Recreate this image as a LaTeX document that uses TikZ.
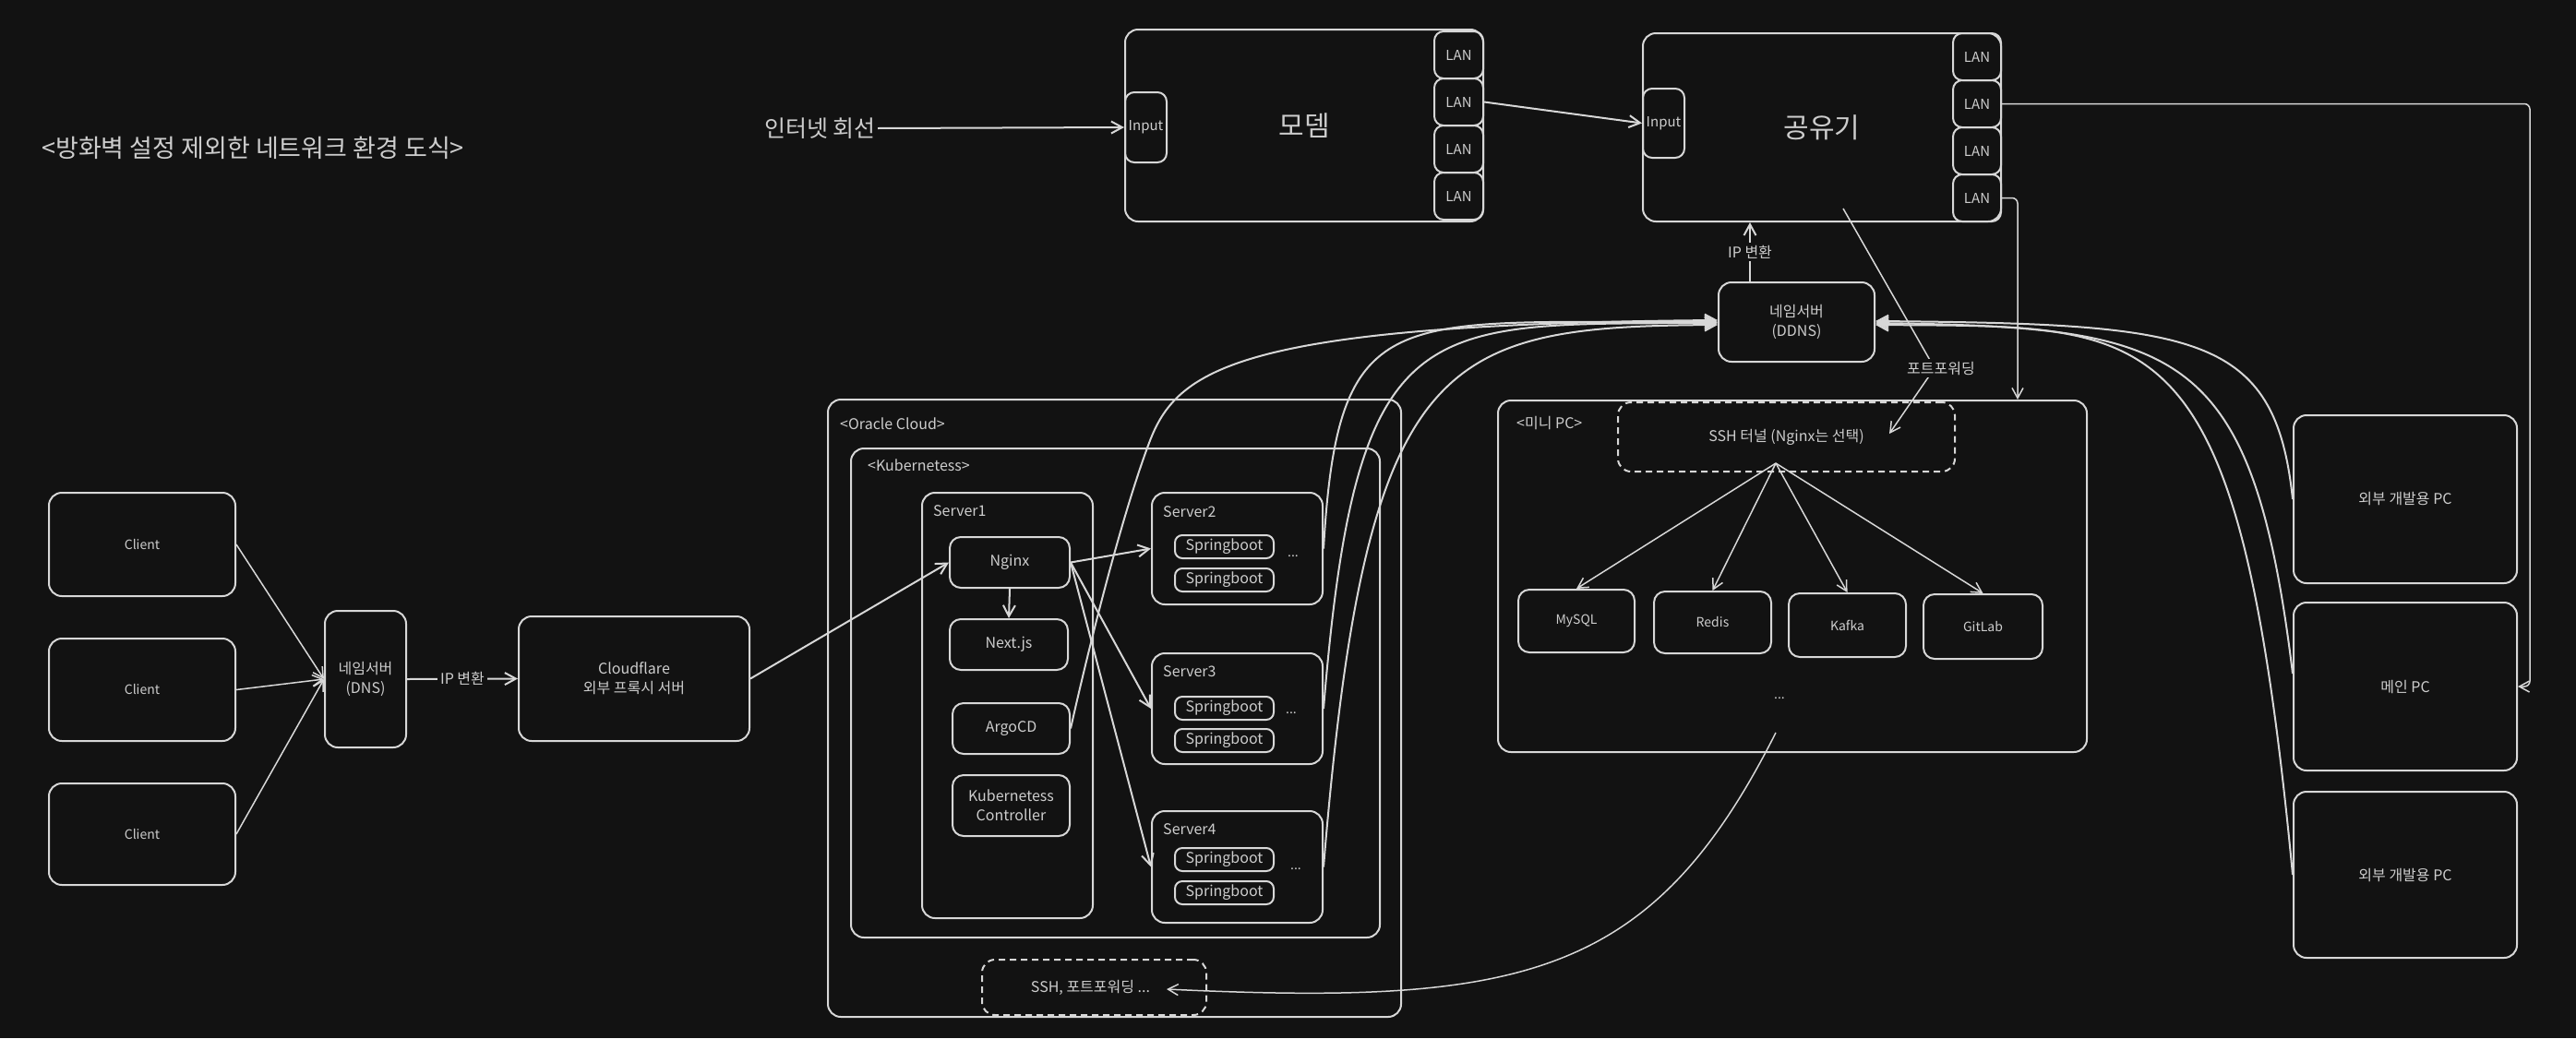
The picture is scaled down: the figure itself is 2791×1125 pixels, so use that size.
\documentclass[tikz,border=0pt]{standalone}
\usepackage{fontspec}
\setmainfont{Noto Sans CJK KR}
\usetikzlibrary{arrows.meta,calc}
\definecolor{bg}{RGB}{18,18,18}
\definecolor{fg}{RGB}{215,215,215}
\definecolor{tx}{RGB}{205,205,205}
\newcommand\fsz[2]{\fontsize{#1}{#2}\selectfont}
\begin{document}
\begin{tikzpicture}[x=1pt,y=-1pt,
  box/.style={draw=fg, line width=2pt, rounded corners=14pt, text=tx, align=center, inner sep=0pt, font=\fsz{16}{21}},
  sm/.style={box, rounded corners=8pt},
  svc/.style={box, rounded corners=12pt, font=\fsz{14}{18}},
  port/.style={box, rounded corners=10pt, font=\fsz{15}{18}},
  dbox/.style={box, dash pattern=on 7pt off 5pt},
  txt/.style={text=tx, inner sep=2pt, font=\fsz{16}{21}, align=center},
  lab/.style={txt, fill=bg, inner sep=3pt},
  con/.style={draw=fg, line width=2pt},
  tcon/.style={draw=fg, line width=1.5pt},
  arr/.style={con, -{Straight Barb[length=12pt,width=13pt]}},
  tarr/.style={tcon, -{Straight Barb[length=11pt,width=12pt]}}
]
\fill[bg] (0,0) rectangle (2791,1125);
\useasboundingbox (0,0) rectangle (2791,1125);

% title
\node[txt, anchor=west, font=\fsz{27}{31}] (title) at (43,160) {<방화벽 설정 제외한 네트워크 환경 도식>};

% modem
\node[txt, anchor=east, font=\fsz{25}{29}] (inet) at (951,139) {인터넷 회선};
\node[box, minimum width=388, minimum height=208, font=\fsz{30}{34}] (modem) at (1413,136) {모뎀};
\node[port, minimum width=45, minimum height=76] (min) at (1241.5,138) {Input};
\node[port, minimum width=53, minimum height=51] (ml1) at (1580.5,59.5) {LAN};
\node[port, minimum width=53, minimum height=51] (ml2) at (1580.5,110.5) {LAN};
\node[port, minimum width=53, minimum height=51] (ml3) at (1580.5,161.5) {LAN};
\node[port, minimum width=53, minimum height=51] (ml4) at (1580.5,212.5) {LAN};

% router
\node[box, minimum width=388, minimum height=204, font=\fsz{30}{34}] (router) at (1974,138) {공유기};
\node[port, minimum width=45, minimum height=75] (rin) at (1802.5,133.5) {Input};
\node[port, minimum width=52, minimum height=51] (rl1) at (2142,61.5) {LAN};
\node[port, minimum width=52, minimum height=51] (rl2) at (2142,112.5) {LAN};
\node[port, minimum width=52, minimum height=51] (rl3) at (2142,163.5) {LAN};
\node[port, minimum width=52, minimum height=51] (rl4) at (2142,214.5) {LAN};

% DDNS
\node[box, minimum width=169, minimum height=86] (ddns) at (1946.5,349) {네임서버\\(DDNS)};

% mini PC
\node[box, minimum width=638, minimum height=381] (mini) at (1942,624.5) {};
\node[txt, anchor=west] (minilbl) at (1641,459) {<미니 PC>};
\node[dbox, minimum width=365, minimum height=75] (tun) at (1935.5,473.5) {SSH 터널 (Nginx는 선택)};
\node[svc, minimum width=126, minimum height=68] (mysql) at (1708,673) {MySQL};
\node[svc, minimum width=127, minimum height=67] (redis) at (1855.5,674.5) {Redis};
\node[svc, minimum width=127, minimum height=69] (kafka) at (2001.5,677.5) {Kafka};
\node[svc, minimum width=129, minimum height=70] (gitlab) at (2148.5,679) {GitLab};
\node[txt, font=\fsz{14}{16}] (minidots) at (1928,757) {...};

% Oracle cloud
\node[box, minimum width=621, minimum height=669] (oracle) at (1207.5,767.5) {};
\node[txt, anchor=west] (olbl) at (908,459) {<Oracle Cloud>};
\node[box, minimum width=573, minimum height=530] (kube) at (1208.5,751) {};
\node[txt, anchor=west] (klbl) at (938,504) {<Kubernetess>};
\node[box, minimum width=185, minimum height=461] (s1) at (1091.5,764.5) {};
\node[txt, anchor=west] (s1lbl) at (1009,554) {Server1};
\node[box, rounded corners=12pt, minimum width=130, minimum height=55] (nginx) at (1094,609.5) {Nginx};
\node[box, rounded corners=12pt, minimum width=128, minimum height=55] (next) at (1093,698.5) {Next.js};
\node[box, rounded corners=12pt, minimum width=127, minimum height=55] (argo) at (1095.5,789.5) {ArgoCD};
\node[box, rounded corners=12pt, minimum width=127, minimum height=66] (kctrl) at (1095.5,873) {Kubernetess\\Controller};

\node[box, minimum width=185, minimum height=121] (s2) at (1340.5,594.5) {};
\node[txt, anchor=west] (s2lbl) at (1258,555) {Server2};
\node[sm, minimum width=107, minimum height=25] (sb21) at (1326.5,592.5) {Springboot};
\node[sm, minimum width=107, minimum height=25] (sb22) at (1326.5,628.5) {Springboot};
\node[txt, font=\fsz{14}{16}] (d2) at (1401,603) {...};

\node[box, minimum width=185, minimum height=120] (s3) at (1340.5,768) {};
\node[txt, anchor=west] (s3lbl) at (1258,728) {Server3};
\node[sm, minimum width=107, minimum height=25] (sb31) at (1326.5,767.5) {Springboot};
\node[sm, minimum width=107, minimum height=25] (sb32) at (1326.5,802.5) {Springboot};
\node[txt, font=\fsz{14}{16}] (d3) at (1399,773) {...};

\node[box, minimum width=185, minimum height=121] (s4) at (1340.5,939.5) {};
\node[txt, anchor=west] (s4lbl) at (1258,899) {Server4};
\node[sm, minimum width=107, minimum height=25] (sb41) at (1326.5,931.5) {Springboot};
\node[sm, minimum width=107, minimum height=25] (sb42) at (1326.5,967.5) {Springboot};
\node[txt, font=\fsz{14}{16}] (d4) at (1404,942) {...};

\node[dbox, minimum width=243, minimum height=60] (sshb) at (1185.5,1070) {SSH, 포트포워딩 ...\hspace*{8pt}};

% left side
\node[box, font=\fsz{14}{18}, minimum width=202, minimum height=112] (c1) at (154,590) {Client};
\node[box, font=\fsz{14}{18}, minimum width=202, minimum height=111] (c2) at (154,747.5) {Client};
\node[box, font=\fsz{14}{18}, minimum width=202, minimum height=110] (c3) at (154,904) {Client};
\node[box, minimum width=88, minimum height=148] (dns) at (396,736) {네임서버\\(DNS)};
\node[box, minimum width=250, minimum height=135] (cf) at (687,735.5) {Cloudflare\\외부 프록시 서버};

% right PCs
\node[box, minimum width=242, minimum height=182] (pc1) at (2606,541) {외부 개발용 PC};
\node[box, minimum width=242, minimum height=182] (mainpc) at (2606,744) {메인 PC};
\node[box, minimum width=242, minimum height=180] (pc2) at (2606,948) {외부 개발용 PC};

% ---- connectors ----
\draw[arr] (inet.east) -- (min.west);
\draw[arr] (ml2.east) -- (rin.west);
\coordinate (rturn) at (2741,112.5);
\draw[tarr, rounded corners=6pt] (rl2.east) -- (rturn) |- (mainpc.east);
\coordinate (dropx) at (2186,0);
\draw[tarr, rounded corners=6pt] (rl4.east) -| (mini.north -| dropx);
\coordinate (ipx) at (1896,0);
\draw[arr] (ddns.north -| ipx) -- node[lab] (ipl) {IP 변환} (router.south -| ipx);

\coordinate (pfs) at (1997,226);
\coordinate (pfm) at (2096,399);
\coordinate (pfe) at (2047,470);
\draw[tarr] (pfs) -- (pfm) -- (pfe);
\node[lab] (pf) at (2103,399) {포트포워딩};

\coordinate (fan) at (1924,502);
\draw[tarr] (fan) -- (mysql.north);
\draw[tarr] (fan) -- (redis.north);
\draw[tarr] (fan) -- (kafka.north);
\draw[tarr] (fan) -- (gitlab.north);

\coordinate (mdot) at (1924,794);
\draw[tarr] (mdot) .. controls (1790,1060) and (1650,1090) .. ($(sshb.east)+(-44,2)$);

\draw[tarr] (c1.east) -- (dns.west);
\draw[tarr] (c2.east) -- (dns.west);
\draw[tarr] (c3.east) -- (dns.west);
\draw[arr] (dns.east) -- node[lab] (ipl2) {IP 변환} (cf.west);
\draw[arr] (cf.east) -- (nginx.west);
\draw[arr] (nginx.south) -- (next.north);
\draw[arr] (nginx.east) -- (s2.west);
\draw[arr] (nginx.east) -- (s3.west);
\draw[arr] (nginx.east) -- (s4.west);

% curves to DDNS (left)
\draw[arr] (argo.east) .. controls (1180,700) and (1215,560) .. (1245,480) .. controls (1275,400) and (1340,351) .. ($(ddns.west)+(0,-2)$);
\draw[arr] (s2.east) .. controls (1450,320) and (1510,351) .. (ddns.west);
\draw[arr] (s3.east) .. controls (1470,330) and (1540,352) .. ($(ddns.west)+(0,1)$);
\draw[arr] (s4.east) .. controls (1480,380) and (1560,354) .. ($(ddns.west)+(0,3)$);

% curves to DDNS (right)
\draw[arr] (pc1.west) .. controls (2465,360) and (2380,351) .. ($(ddns.east)+(0,-1)$);
\draw[arr] ($(mainpc.west)+(0,-14)$) .. controls (2440,370) and (2360,355) .. ($(ddns.east)+(0,1)$);
\draw[arr] (pc2.west) .. controls (2425,330) and (2340,355) .. ($(ddns.east)+(0,3)$);
\end{tikzpicture}
\end{document}
